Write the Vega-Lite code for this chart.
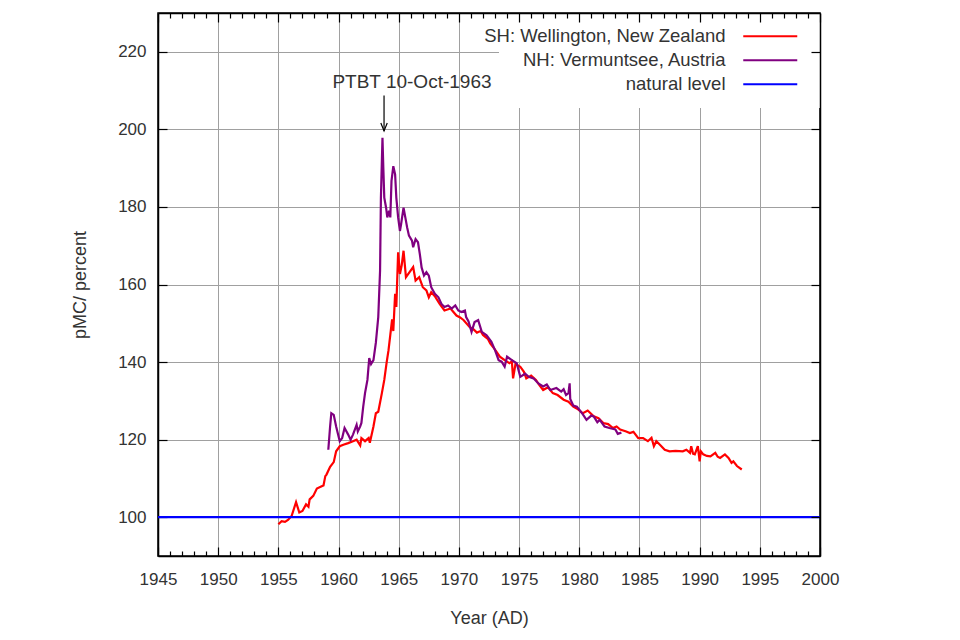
{
  "$schema": "https://vega.github.io/schema/vega-lite/v6.json",
  "width": 662,
  "height": 543,
  "autosize": {"type": "none"},
  "padding": {"left": 158, "top": 13, "right": 140, "bottom": 84},
  "background": "white",
  "config": {
    "font": "Liberation Sans",
    "view": {"stroke": "black", "strokeWidth": 1.5},
    "axis": {
      "labelFont": "Liberation Sans", "labelFontSize": 17, "labelColor": "#333333",
      "titleFont": "Liberation Sans", "titleFontSize": 18, "titleFontWeight": "normal", "titleColor": "#333333",
      "domainColor": "black", "domainWidth": 1.5, "tickColor": "black", "tickWidth": 1.2,
      "gridColor": "#a0a0a0", "gridWidth": 1, "labelOverlap": false, "labelFlush": false
    },
    "legend": {"labelFont": "Liberation Sans", "labelFontSize": 18.5, "labelColor": "#333333"}
  },
  "datasets": {
    "series": [
      {"year": 1955.0, "pmc": 98.2, "series": "SH: Wellington, New Zealand"},
      {"year": 1955.27, "pmc": 99.0, "series": "SH: Wellington, New Zealand"},
      {"year": 1955.55, "pmc": 98.8, "series": "SH: Wellington, New Zealand"},
      {"year": 1955.8, "pmc": 99.3, "series": "SH: Wellington, New Zealand"},
      {"year": 1956.1, "pmc": 100.3, "series": "SH: Wellington, New Zealand"},
      {"year": 1956.47, "pmc": 103.9, "series": "SH: Wellington, New Zealand"},
      {"year": 1956.74, "pmc": 101.2, "series": "SH: Wellington, New Zealand"},
      {"year": 1957.0, "pmc": 101.6, "series": "SH: Wellington, New Zealand"},
      {"year": 1957.3, "pmc": 103.3, "series": "SH: Wellington, New Zealand"},
      {"year": 1957.5, "pmc": 102.7, "series": "SH: Wellington, New Zealand"},
      {"year": 1957.6, "pmc": 104.6, "series": "SH: Wellington, New Zealand"},
      {"year": 1957.9, "pmc": 105.5, "series": "SH: Wellington, New Zealand"},
      {"year": 1958.2, "pmc": 107.4, "series": "SH: Wellington, New Zealand"},
      {"year": 1958.6, "pmc": 108.0, "series": "SH: Wellington, New Zealand"},
      {"year": 1958.75, "pmc": 108.2, "series": "SH: Wellington, New Zealand"},
      {"year": 1958.9, "pmc": 110.6, "series": "SH: Wellington, New Zealand"},
      {"year": 1959.0, "pmc": 111.0, "series": "SH: Wellington, New Zealand"},
      {"year": 1959.3, "pmc": 113.0, "series": "SH: Wellington, New Zealand"},
      {"year": 1959.6, "pmc": 114.2, "series": "SH: Wellington, New Zealand"},
      {"year": 1959.8, "pmc": 117.0, "series": "SH: Wellington, New Zealand"},
      {"year": 1960.1, "pmc": 118.3, "series": "SH: Wellington, New Zealand"},
      {"year": 1960.4, "pmc": 118.7, "series": "SH: Wellington, New Zealand"},
      {"year": 1960.8, "pmc": 119.1, "series": "SH: Wellington, New Zealand"},
      {"year": 1961.2, "pmc": 119.6, "series": "SH: Wellington, New Zealand"},
      {"year": 1961.5, "pmc": 120.0, "series": "SH: Wellington, New Zealand"},
      {"year": 1961.8, "pmc": 118.5, "series": "SH: Wellington, New Zealand"},
      {"year": 1961.9, "pmc": 120.4, "series": "SH: Wellington, New Zealand"},
      {"year": 1962.2, "pmc": 119.6, "series": "SH: Wellington, New Zealand"},
      {"year": 1962.5, "pmc": 120.4, "series": "SH: Wellington, New Zealand"},
      {"year": 1962.6, "pmc": 119.2, "series": "SH: Wellington, New Zealand"},
      {"year": 1962.9, "pmc": 123.4, "series": "SH: Wellington, New Zealand"},
      {"year": 1963.1, "pmc": 126.8, "series": "SH: Wellington, New Zealand"},
      {"year": 1963.3, "pmc": 127.2, "series": "SH: Wellington, New Zealand"},
      {"year": 1963.6, "pmc": 132.0, "series": "SH: Wellington, New Zealand"},
      {"year": 1963.8, "pmc": 135.4, "series": "SH: Wellington, New Zealand"},
      {"year": 1964.0, "pmc": 140.0, "series": "SH: Wellington, New Zealand"},
      {"year": 1964.15, "pmc": 143.0, "series": "SH: Wellington, New Zealand"},
      {"year": 1964.3, "pmc": 147.0, "series": "SH: Wellington, New Zealand"},
      {"year": 1964.45, "pmc": 151.0, "series": "SH: Wellington, New Zealand"},
      {"year": 1964.55, "pmc": 148.0, "series": "SH: Wellington, New Zealand"},
      {"year": 1964.7, "pmc": 157.6, "series": "SH: Wellington, New Zealand"},
      {"year": 1964.8, "pmc": 154.2, "series": "SH: Wellington, New Zealand"},
      {"year": 1964.95, "pmc": 168.3, "series": "SH: Wellington, New Zealand"},
      {"year": 1965.1, "pmc": 162.7, "series": "SH: Wellington, New Zealand"},
      {"year": 1965.25, "pmc": 165.0, "series": "SH: Wellington, New Zealand"},
      {"year": 1965.4, "pmc": 168.7, "series": "SH: Wellington, New Zealand"},
      {"year": 1965.6, "pmc": 161.9, "series": "SH: Wellington, New Zealand"},
      {"year": 1965.9, "pmc": 163.2, "series": "SH: Wellington, New Zealand"},
      {"year": 1966.2, "pmc": 164.5, "series": "SH: Wellington, New Zealand"},
      {"year": 1966.4, "pmc": 161.0, "series": "SH: Wellington, New Zealand"},
      {"year": 1966.7, "pmc": 161.9, "series": "SH: Wellington, New Zealand"},
      {"year": 1967.0, "pmc": 159.3, "series": "SH: Wellington, New Zealand"},
      {"year": 1967.3, "pmc": 158.5, "series": "SH: Wellington, New Zealand"},
      {"year": 1967.5, "pmc": 156.7, "series": "SH: Wellington, New Zealand"},
      {"year": 1967.7, "pmc": 158.0, "series": "SH: Wellington, New Zealand"},
      {"year": 1968.0, "pmc": 157.0, "series": "SH: Wellington, New Zealand"},
      {"year": 1968.4, "pmc": 155.0, "series": "SH: Wellington, New Zealand"},
      {"year": 1968.8, "pmc": 153.3, "series": "SH: Wellington, New Zealand"},
      {"year": 1969.3, "pmc": 153.8, "series": "SH: Wellington, New Zealand"},
      {"year": 1969.8, "pmc": 152.0, "series": "SH: Wellington, New Zealand"},
      {"year": 1970.1, "pmc": 151.5, "series": "SH: Wellington, New Zealand"},
      {"year": 1970.4, "pmc": 150.8, "series": "SH: Wellington, New Zealand"},
      {"year": 1970.9, "pmc": 149.0, "series": "SH: Wellington, New Zealand"},
      {"year": 1971.2, "pmc": 148.5, "series": "SH: Wellington, New Zealand"},
      {"year": 1971.5, "pmc": 147.6, "series": "SH: Wellington, New Zealand"},
      {"year": 1971.8, "pmc": 148.0, "series": "SH: Wellington, New Zealand"},
      {"year": 1972.0, "pmc": 147.0, "series": "SH: Wellington, New Zealand"},
      {"year": 1972.4, "pmc": 146.0, "series": "SH: Wellington, New Zealand"},
      {"year": 1972.6, "pmc": 144.8, "series": "SH: Wellington, New Zealand"},
      {"year": 1973.0, "pmc": 143.2, "series": "SH: Wellington, New Zealand"},
      {"year": 1973.4, "pmc": 141.4, "series": "SH: Wellington, New Zealand"},
      {"year": 1973.8, "pmc": 140.5, "series": "SH: Wellington, New Zealand"},
      {"year": 1974.2, "pmc": 139.7, "series": "SH: Wellington, New Zealand"},
      {"year": 1974.4, "pmc": 140.2, "series": "SH: Wellington, New Zealand"},
      {"year": 1974.5, "pmc": 135.8, "series": "SH: Wellington, New Zealand"},
      {"year": 1974.7, "pmc": 139.5, "series": "SH: Wellington, New Zealand"},
      {"year": 1975.1, "pmc": 138.8, "series": "SH: Wellington, New Zealand"},
      {"year": 1975.4, "pmc": 137.5, "series": "SH: Wellington, New Zealand"},
      {"year": 1975.6, "pmc": 135.8, "series": "SH: Wellington, New Zealand"},
      {"year": 1976.0, "pmc": 136.5, "series": "SH: Wellington, New Zealand"},
      {"year": 1976.4, "pmc": 135.4, "series": "SH: Wellington, New Zealand"},
      {"year": 1976.7, "pmc": 134.0, "series": "SH: Wellington, New Zealand"},
      {"year": 1977.0, "pmc": 132.8, "series": "SH: Wellington, New Zealand"},
      {"year": 1977.4, "pmc": 133.5, "series": "SH: Wellington, New Zealand"},
      {"year": 1977.8, "pmc": 132.0, "series": "SH: Wellington, New Zealand"},
      {"year": 1978.2, "pmc": 131.5, "series": "SH: Wellington, New Zealand"},
      {"year": 1978.7, "pmc": 130.3, "series": "SH: Wellington, New Zealand"},
      {"year": 1979.1, "pmc": 129.8, "series": "SH: Wellington, New Zealand"},
      {"year": 1979.5, "pmc": 128.5, "series": "SH: Wellington, New Zealand"},
      {"year": 1979.9, "pmc": 127.8, "series": "SH: Wellington, New Zealand"},
      {"year": 1980.3, "pmc": 126.8, "series": "SH: Wellington, New Zealand"},
      {"year": 1980.7, "pmc": 127.5, "series": "SH: Wellington, New Zealand"},
      {"year": 1981.2, "pmc": 126.0, "series": "SH: Wellington, New Zealand"},
      {"year": 1981.6, "pmc": 125.5, "series": "SH: Wellington, New Zealand"},
      {"year": 1982.0, "pmc": 124.3, "series": "SH: Wellington, New Zealand"},
      {"year": 1982.4, "pmc": 124.0, "series": "SH: Wellington, New Zealand"},
      {"year": 1982.8, "pmc": 123.0, "series": "SH: Wellington, New Zealand"},
      {"year": 1983.1, "pmc": 123.4, "series": "SH: Wellington, New Zealand"},
      {"year": 1983.4, "pmc": 122.6, "series": "SH: Wellington, New Zealand"},
      {"year": 1983.9, "pmc": 122.1, "series": "SH: Wellington, New Zealand"},
      {"year": 1984.2, "pmc": 121.7, "series": "SH: Wellington, New Zealand"},
      {"year": 1984.5, "pmc": 122.0, "series": "SH: Wellington, New Zealand"},
      {"year": 1984.9, "pmc": 120.4, "series": "SH: Wellington, New Zealand"},
      {"year": 1985.3, "pmc": 120.4, "series": "SH: Wellington, New Zealand"},
      {"year": 1985.7, "pmc": 119.6, "series": "SH: Wellington, New Zealand"},
      {"year": 1986.0, "pmc": 120.5, "series": "SH: Wellington, New Zealand"},
      {"year": 1986.2, "pmc": 118.3, "series": "SH: Wellington, New Zealand"},
      {"year": 1986.4, "pmc": 119.6, "series": "SH: Wellington, New Zealand"},
      {"year": 1986.7, "pmc": 118.7, "series": "SH: Wellington, New Zealand"},
      {"year": 1987.1, "pmc": 117.4, "series": "SH: Wellington, New Zealand"},
      {"year": 1987.5, "pmc": 117.0, "series": "SH: Wellington, New Zealand"},
      {"year": 1988.0, "pmc": 117.1, "series": "SH: Wellington, New Zealand"},
      {"year": 1988.6, "pmc": 117.0, "series": "SH: Wellington, New Zealand"},
      {"year": 1988.9, "pmc": 117.4, "series": "SH: Wellington, New Zealand"},
      {"year": 1989.2, "pmc": 116.6, "series": "SH: Wellington, New Zealand"},
      {"year": 1989.3, "pmc": 118.3, "series": "SH: Wellington, New Zealand"},
      {"year": 1989.45, "pmc": 116.4, "series": "SH: Wellington, New Zealand"},
      {"year": 1989.6, "pmc": 116.2, "series": "SH: Wellington, New Zealand"},
      {"year": 1989.85, "pmc": 118.3, "series": "SH: Wellington, New Zealand"},
      {"year": 1990.0, "pmc": 114.4, "series": "SH: Wellington, New Zealand"},
      {"year": 1990.1, "pmc": 117.0, "series": "SH: Wellington, New Zealand"},
      {"year": 1990.3, "pmc": 116.2, "series": "SH: Wellington, New Zealand"},
      {"year": 1990.6, "pmc": 115.8, "series": "SH: Wellington, New Zealand"},
      {"year": 1990.9, "pmc": 115.7, "series": "SH: Wellington, New Zealand"},
      {"year": 1991.3, "pmc": 116.6, "series": "SH: Wellington, New Zealand"},
      {"year": 1991.5, "pmc": 115.6, "series": "SH: Wellington, New Zealand"},
      {"year": 1991.7, "pmc": 115.3, "series": "SH: Wellington, New Zealand"},
      {"year": 1992.1, "pmc": 116.2, "series": "SH: Wellington, New Zealand"},
      {"year": 1992.4, "pmc": 115.3, "series": "SH: Wellington, New Zealand"},
      {"year": 1992.65, "pmc": 114.0, "series": "SH: Wellington, New Zealand"},
      {"year": 1992.8, "pmc": 114.4, "series": "SH: Wellington, New Zealand"},
      {"year": 1993.1, "pmc": 113.2, "series": "SH: Wellington, New Zealand"},
      {"year": 1993.5, "pmc": 112.3, "series": "SH: Wellington, New Zealand"},
      {"year": 1959.15, "pmc": 117.4, "series": "NH: Vermuntsee, Austria"},
      {"year": 1959.3, "pmc": 123.4, "series": "NH: Vermuntsee, Austria"},
      {"year": 1959.4, "pmc": 126.8, "series": "NH: Vermuntsee, Austria"},
      {"year": 1959.6, "pmc": 126.4, "series": "NH: Vermuntsee, Austria"},
      {"year": 1959.8, "pmc": 123.4, "series": "NH: Vermuntsee, Austria"},
      {"year": 1960.1, "pmc": 119.6, "series": "NH: Vermuntsee, Austria"},
      {"year": 1960.3, "pmc": 120.4, "series": "NH: Vermuntsee, Austria"},
      {"year": 1960.5, "pmc": 123.0, "series": "NH: Vermuntsee, Austria"},
      {"year": 1960.8, "pmc": 121.3, "series": "NH: Vermuntsee, Austria"},
      {"year": 1961.0, "pmc": 120.0, "series": "NH: Vermuntsee, Austria"},
      {"year": 1961.2, "pmc": 121.3, "series": "NH: Vermuntsee, Austria"},
      {"year": 1961.5, "pmc": 123.8, "series": "NH: Vermuntsee, Austria"},
      {"year": 1961.6, "pmc": 122.1, "series": "NH: Vermuntsee, Austria"},
      {"year": 1961.8, "pmc": 123.4, "series": "NH: Vermuntsee, Austria"},
      {"year": 1961.9, "pmc": 124.3, "series": "NH: Vermuntsee, Austria"},
      {"year": 1962.05, "pmc": 128.5, "series": "NH: Vermuntsee, Austria"},
      {"year": 1962.2, "pmc": 132.0, "series": "NH: Vermuntsee, Austria"},
      {"year": 1962.4, "pmc": 135.4, "series": "NH: Vermuntsee, Austria"},
      {"year": 1962.55, "pmc": 141.0, "series": "NH: Vermuntsee, Austria"},
      {"year": 1962.7, "pmc": 139.5, "series": "NH: Vermuntsee, Austria"},
      {"year": 1962.9, "pmc": 140.5, "series": "NH: Vermuntsee, Austria"},
      {"year": 1963.1, "pmc": 145.0, "series": "NH: Vermuntsee, Austria"},
      {"year": 1963.3, "pmc": 151.6, "series": "NH: Vermuntsee, Austria"},
      {"year": 1963.45, "pmc": 163.6, "series": "NH: Vermuntsee, Austria"},
      {"year": 1963.52, "pmc": 182.4, "series": "NH: Vermuntsee, Austria"},
      {"year": 1963.65, "pmc": 197.8, "series": "NH: Vermuntsee, Austria"},
      {"year": 1963.72, "pmc": 190.1, "series": "NH: Vermuntsee, Austria"},
      {"year": 1963.8, "pmc": 182.4, "series": "NH: Vermuntsee, Austria"},
      {"year": 1963.95, "pmc": 179.8, "series": "NH: Vermuntsee, Austria"},
      {"year": 1964.05, "pmc": 177.3, "series": "NH: Vermuntsee, Austria"},
      {"year": 1964.2, "pmc": 179.0, "series": "NH: Vermuntsee, Austria"},
      {"year": 1964.3, "pmc": 177.3, "series": "NH: Vermuntsee, Austria"},
      {"year": 1964.4, "pmc": 186.7, "series": "NH: Vermuntsee, Austria"},
      {"year": 1964.55, "pmc": 190.5, "series": "NH: Vermuntsee, Austria"},
      {"year": 1964.7, "pmc": 188.4, "series": "NH: Vermuntsee, Austria"},
      {"year": 1964.8, "pmc": 182.4, "series": "NH: Vermuntsee, Austria"},
      {"year": 1964.95, "pmc": 177.3, "series": "NH: Vermuntsee, Austria"},
      {"year": 1965.1, "pmc": 173.8, "series": "NH: Vermuntsee, Austria"},
      {"year": 1965.2, "pmc": 175.6, "series": "NH: Vermuntsee, Austria"},
      {"year": 1965.4, "pmc": 179.8, "series": "NH: Vermuntsee, Austria"},
      {"year": 1965.6, "pmc": 176.4, "series": "NH: Vermuntsee, Austria"},
      {"year": 1965.7, "pmc": 174.7, "series": "NH: Vermuntsee, Austria"},
      {"year": 1965.85, "pmc": 172.6, "series": "NH: Vermuntsee, Austria"},
      {"year": 1966.1, "pmc": 171.3, "series": "NH: Vermuntsee, Austria"},
      {"year": 1966.2, "pmc": 169.6, "series": "NH: Vermuntsee, Austria"},
      {"year": 1966.4, "pmc": 171.7, "series": "NH: Vermuntsee, Austria"},
      {"year": 1966.6, "pmc": 170.9, "series": "NH: Vermuntsee, Austria"},
      {"year": 1966.75, "pmc": 167.9, "series": "NH: Vermuntsee, Austria"},
      {"year": 1966.9, "pmc": 164.4, "series": "NH: Vermuntsee, Austria"},
      {"year": 1967.1, "pmc": 162.3, "series": "NH: Vermuntsee, Austria"},
      {"year": 1967.3, "pmc": 163.2, "series": "NH: Vermuntsee, Austria"},
      {"year": 1967.5, "pmc": 162.3, "series": "NH: Vermuntsee, Austria"},
      {"year": 1967.7, "pmc": 159.3, "series": "NH: Vermuntsee, Austria"},
      {"year": 1968.0, "pmc": 157.6, "series": "NH: Vermuntsee, Austria"},
      {"year": 1968.3, "pmc": 156.7, "series": "NH: Vermuntsee, Austria"},
      {"year": 1968.55, "pmc": 155.0, "series": "NH: Vermuntsee, Austria"},
      {"year": 1968.8, "pmc": 154.2, "series": "NH: Vermuntsee, Austria"},
      {"year": 1969.1, "pmc": 154.6, "series": "NH: Vermuntsee, Austria"},
      {"year": 1969.4, "pmc": 153.8, "series": "NH: Vermuntsee, Austria"},
      {"year": 1969.7, "pmc": 154.6, "series": "NH: Vermuntsee, Austria"},
      {"year": 1969.95, "pmc": 153.3, "series": "NH: Vermuntsee, Austria"},
      {"year": 1970.2, "pmc": 152.9, "series": "NH: Vermuntsee, Austria"},
      {"year": 1970.5, "pmc": 153.3, "series": "NH: Vermuntsee, Austria"},
      {"year": 1970.6, "pmc": 151.6, "series": "NH: Vermuntsee, Austria"},
      {"year": 1970.8, "pmc": 150.5, "series": "NH: Vermuntsee, Austria"},
      {"year": 1971.05, "pmc": 147.8, "series": "NH: Vermuntsee, Austria"},
      {"year": 1971.3, "pmc": 150.3, "series": "NH: Vermuntsee, Austria"},
      {"year": 1971.6, "pmc": 150.8, "series": "NH: Vermuntsee, Austria"},
      {"year": 1971.9, "pmc": 147.8, "series": "NH: Vermuntsee, Austria"},
      {"year": 1972.3, "pmc": 146.9, "series": "NH: Vermuntsee, Austria"},
      {"year": 1972.7, "pmc": 145.2, "series": "NH: Vermuntsee, Austria"},
      {"year": 1973.0, "pmc": 143.1, "series": "NH: Vermuntsee, Austria"},
      {"year": 1973.3, "pmc": 140.5, "series": "NH: Vermuntsee, Austria"},
      {"year": 1973.55, "pmc": 140.1, "series": "NH: Vermuntsee, Austria"},
      {"year": 1973.8, "pmc": 138.8, "series": "NH: Vermuntsee, Austria"},
      {"year": 1974.0, "pmc": 141.4, "series": "NH: Vermuntsee, Austria"},
      {"year": 1974.4, "pmc": 140.5, "series": "NH: Vermuntsee, Austria"},
      {"year": 1974.8, "pmc": 139.7, "series": "NH: Vermuntsee, Austria"},
      {"year": 1975.1, "pmc": 136.2, "series": "NH: Vermuntsee, Austria"},
      {"year": 1975.5, "pmc": 137.0, "series": "NH: Vermuntsee, Austria"},
      {"year": 1975.8, "pmc": 136.2, "series": "NH: Vermuntsee, Austria"},
      {"year": 1976.2, "pmc": 135.8, "series": "NH: Vermuntsee, Austria"},
      {"year": 1976.6, "pmc": 134.5, "series": "NH: Vermuntsee, Austria"},
      {"year": 1977.0, "pmc": 133.7, "series": "NH: Vermuntsee, Austria"},
      {"year": 1977.3, "pmc": 134.2, "series": "NH: Vermuntsee, Austria"},
      {"year": 1977.6, "pmc": 132.8, "series": "NH: Vermuntsee, Austria"},
      {"year": 1978.1, "pmc": 133.3, "series": "NH: Vermuntsee, Austria"},
      {"year": 1978.5, "pmc": 132.4, "series": "NH: Vermuntsee, Austria"},
      {"year": 1978.7, "pmc": 133.0, "series": "NH: Vermuntsee, Austria"},
      {"year": 1978.9, "pmc": 131.5, "series": "NH: Vermuntsee, Austria"},
      {"year": 1979.1, "pmc": 132.0, "series": "NH: Vermuntsee, Austria"},
      {"year": 1979.2, "pmc": 134.5, "series": "NH: Vermuntsee, Austria"},
      {"year": 1979.25, "pmc": 130.5, "series": "NH: Vermuntsee, Austria"},
      {"year": 1979.5, "pmc": 128.8, "series": "NH: Vermuntsee, Austria"},
      {"year": 1979.8, "pmc": 128.5, "series": "NH: Vermuntsee, Austria"},
      {"year": 1980.0, "pmc": 127.7, "series": "NH: Vermuntsee, Austria"},
      {"year": 1980.3, "pmc": 126.5, "series": "NH: Vermuntsee, Austria"},
      {"year": 1980.6, "pmc": 125.1, "series": "NH: Vermuntsee, Austria"},
      {"year": 1981.0, "pmc": 126.2, "series": "NH: Vermuntsee, Austria"},
      {"year": 1981.2, "pmc": 126.0, "series": "NH: Vermuntsee, Austria"},
      {"year": 1981.5, "pmc": 124.5, "series": "NH: Vermuntsee, Austria"},
      {"year": 1981.7, "pmc": 125.1, "series": "NH: Vermuntsee, Austria"},
      {"year": 1982.1, "pmc": 123.4, "series": "NH: Vermuntsee, Austria"},
      {"year": 1982.5, "pmc": 123.0, "series": "NH: Vermuntsee, Austria"},
      {"year": 1983.0, "pmc": 122.6, "series": "NH: Vermuntsee, Austria"},
      {"year": 1983.2, "pmc": 121.5, "series": "NH: Vermuntsee, Austria"},
      {"year": 1983.5, "pmc": 121.8, "series": "NH: Vermuntsee, Austria"},
      {"year": 1945, "pmc": 100, "series": "natural level"},
      {"year": 2000, "pmc": 100, "series": "natural level"}
    ],
    "note": [
      {"year": 1966.1, "pmc": 212.3, "label": "PTBT 10-Oct-1963"}
    ],
    "arrow": [
      {"year": 1963.78, "from": 208.7, "to": 199.6}
    ]
  },
  "layer": [
    {
      "data": {"name": "series"},
      "mark": {"type": "line", "strokeWidth": 2.2, "clip": true},
      "encoding": {
        "x": {
          "field": "year", "type": "quantitative",
          "scale": {"domain": [1945, 2000], "nice": false, "zero": false},
          "axis": {
            "orient": "bottom",
            "zindex": 0,
            "values": [1945,1946,1947,1948,1949,1950,1951,1952,1953,1954,1955,1956,1957,1958,1959,1960,1961,1962,1963,1964,1965,1966,1967,1968,1969,1970,1971,1972,1973,1974,1975,1976,1977,1978,1979,1980,1981,1982,1983,1984,1985,1986,1987,1988,1989,1990,1991,1992,1993,1994,1995,1996,1997,1998,1999,2000],
            "format": "d",
            "labelExpr": "datum.value % 5 === 0 ? datum.label : ''",
            "tickSize": {"condition": {"test": "datum.value % 5 === 0", "value": -9}, "value": -5},
            "gridOpacity": {"condition": {"test": "datum.value % 5 === 0", "value": 1}, "value": 0},
            "grid": true,
            "labelPadding": 24,
            "title": "Year (AD)",
            "titlePadding": 18
          }
        },
        "y": {
          "field": "pmc", "type": "quantitative",
          "scale": {"domain": [90, 230], "nice": false, "zero": false},
          "axis": {
            "orient": "left",
            "zindex": 0,
            "values": [100, 120, 140, 160, 180, 200, 220],
            "tickSize": -9,
            "labelPadding": 21,
            "grid": true,
            "title": "pMC/ percent",
            "titlePadding": 28
          }
        },
        "color": {
          "field": "series", "type": "nominal",
          "scale": {
            "domain": ["SH: Wellington, New Zealand", "NH: Vermuntsee, Austria", "natural level"],
            "range": ["#ff0000", "#800080", "#0000ff"]
          },
          "legend": {
            "title": null,
            "orient": "top-right",
            "offset": 0,
            "padding": 14,
            "zindex": 1,
            "fillColor": "white",
            "symbolType": "M-4,0L4,0M4.6,0",
            "symbolSize": 182.25,
            "symbolStrokeWidth": 2,
            "symbolOffset": 248,
            "labelAlign": "right",
            "labelOffset": -54,
            "labelLimit": 0,
            "rowPadding": 5
          }
        }
      }
    },
    {
      "data": {"name": "note"},
      "mark": {"type": "text", "fontSize": 19, "font": "Liberation Sans", "color": "#333333", "align": "center", "baseline": "middle"},
      "encoding": {
        "x": {
          "field": "year", "type": "quantitative",
          "scale": {"domain": [1945, 2000], "nice": false, "zero": false},
          "axis": {
            "orient": "top",
            "zindex": 2,
            "values": [1945,1946,1947,1948,1949,1950,1951,1952,1953,1954,1955,1956,1957,1958,1959,1960,1961,1962,1963,1964,1965,1966,1967,1968,1969,1970,1971,1972,1973,1974,1975,1976,1977,1978,1979,1980,1981,1982,1983,1984,1985,1986,1987,1988,1989,1990,1991,1992,1993,1994,1995,1996,1997,1998,1999,2000],
            "labels": false, "grid": false, "title": null,
            "tickSize": {"condition": {"test": "datum.value % 5 === 0", "value": -9}, "value": -5}
          }
        },
        "y": {
          "field": "pmc", "type": "quantitative",
          "scale": {"domain": [90, 230], "nice": false, "zero": false},
          "axis": {
            "orient": "right",
            "zindex": 2,
            "values": [100, 120, 140, 160, 180, 200, 220],
            "labels": false, "grid": false, "title": null, "tickSize": -9
          }
        },
        "text": {"field": "label"}
      }
    },
    {
      "data": {"name": "arrow"},
      "mark": {"type": "rule", "color": "black", "strokeWidth": 1.2},
      "encoding": {
        "x": {"field": "year", "type": "quantitative", "axis": null},
        "y": {"field": "from", "type": "quantitative", "axis": null},
        "y2": {"field": "to"}
      }
    },
    {
      "data": {"name": "arrow"},
      "mark": {"type": "point", "shape": "M-0.4,-1L0,0L0.4,-1", "size": 256, "filled": false, "color": "black", "strokeWidth": 1.2, "opacity": 1},
      "encoding": {
        "x": {"field": "year", "type": "quantitative", "axis": null},
        "y": {"field": "to", "type": "quantitative", "axis": null}
      }
    }
  ],
  "resolve": {"axis": {"x": "independent", "y": "independent"}}
}
